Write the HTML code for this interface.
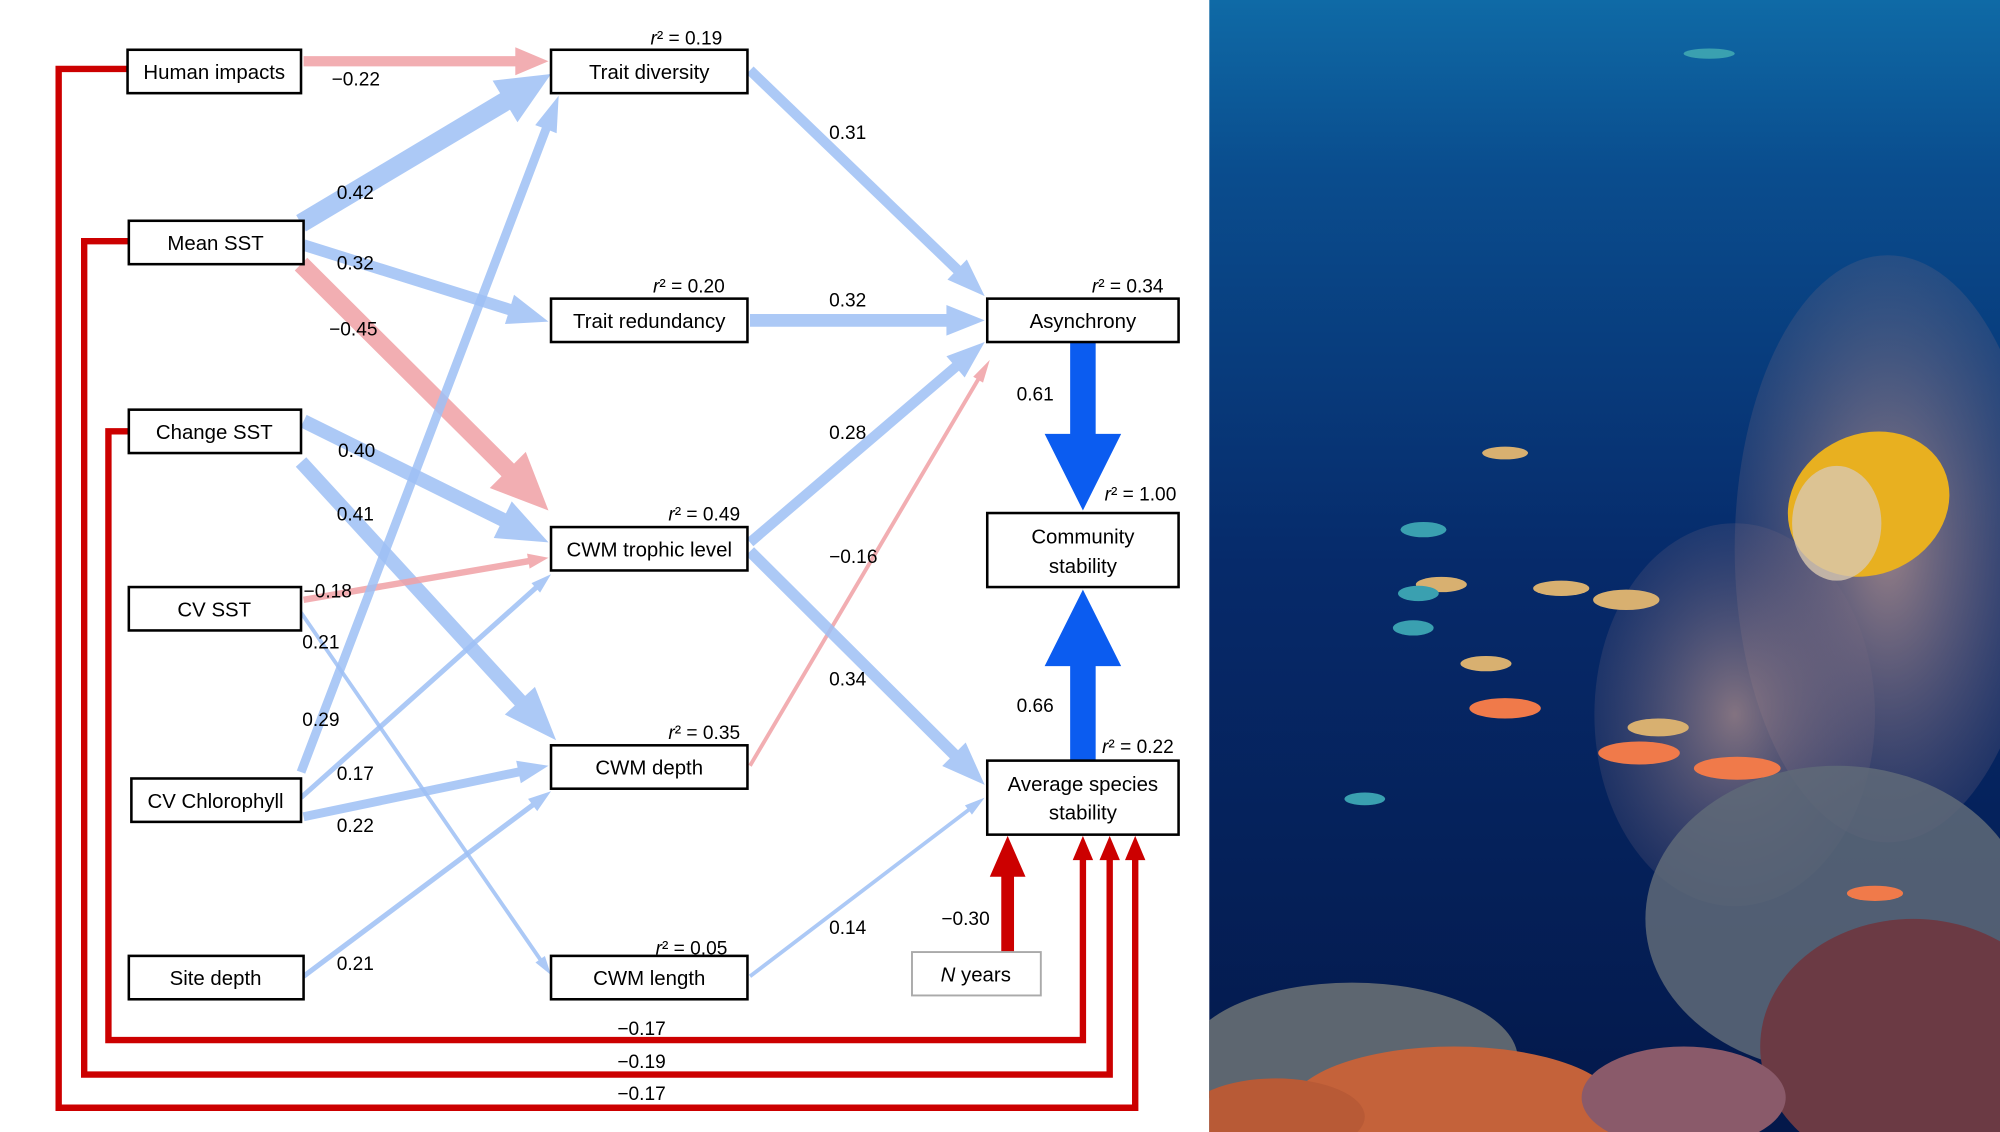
<!DOCTYPE html>
<html><head><meta charset="utf-8"><style>
html,body{margin:0;padding:0;background:#fff;}
svg{display:block;}
text{font-family:"Liberation Sans",Arial,sans-serif;fill:#000;}
</style></head><body>
<svg id="s" width="2000" height="1132" viewBox="0 0 1568 887" preserveAspectRatio="none" xmlns="http://www.w3.org/2000/svg">
<defs>
<linearGradient id="sea" x1="0" y1="0" x2="0" y2="1">
<stop offset="0" stop-color="#0f6aa6"/><stop offset="0.15" stop-color="#0a4d8e"/><stop offset="0.5" stop-color="#062a6a"/><stop offset="1" stop-color="#04184a"/>
</linearGradient>
<radialGradient id="fan" cx="0.5" cy="0.5" r="0.5"><stop offset="0" stop-color="#b9948e"/><stop offset="1" stop-color="#7a6a80" stop-opacity="0.3"/></radialGradient>
<clipPath id="pc"><rect x="948" y="0" width="620" height="887"/></clipPath>
</defs>
<rect x="0" y="0" width="1568" height="887" fill="#fff"/>
<!-- photo -->
<g clip-path="url(#pc)">
<rect x="948" y="0" width="620" height="887" fill="url(#sea)"/>
<ellipse cx="1480" cy="430" rx="120" ry="230" fill="url(#fan)" opacity="0.8"/>
<ellipse cx="1360" cy="560" rx="110" ry="150" fill="url(#fan)" opacity="0.7"/>
<ellipse cx="1440" cy="720" rx="150" ry="120" fill="#5f6a78" opacity="0.85"/>
<ellipse cx="1500" cy="820" rx="120" ry="100" fill="#6b3a44"/>
<ellipse cx="1060" cy="830" rx="130" ry="60" fill="#5d6670"/>
<ellipse cx="1140" cy="870" rx="130" ry="50" fill="#c4623a"/>
<ellipse cx="1000" cy="875" rx="70" ry="30" fill="#b85a36"/>
<ellipse cx="1320" cy="860" rx="80" ry="40" fill="#8a5a6a"/>
<ellipse cx="1465" cy="395" rx="65" ry="55" fill="#e8b020" transform="rotate(-25 1465 395)"/>
<ellipse cx="1440" cy="410" rx="35" ry="45" fill="#d8c8b0" opacity="0.8"/>
<g fill="#f07a4a">
<ellipse cx="1180" cy="555" rx="28" ry="8"/><ellipse cx="1285" cy="590" rx="32" ry="9"/><ellipse cx="1362" cy="602" rx="34" ry="9"/><ellipse cx="1470" cy="700" rx="22" ry="6"/>
</g>
<g fill="#d8b070">
<ellipse cx="1165" cy="520" rx="20" ry="6"/><ellipse cx="1224" cy="461" rx="22" ry="6"/><ellipse cx="1275" cy="470" rx="26" ry="8"/><ellipse cx="1180" cy="355" rx="18" ry="5"/><ellipse cx="1300" cy="570" rx="24" ry="7"/><ellipse cx="1130" cy="458" rx="20" ry="6"/>
</g>
<g fill="#3aa0b0">
<ellipse cx="1116" cy="415" rx="18" ry="6"/><ellipse cx="1112" cy="465" rx="16" ry="6"/><ellipse cx="1108" cy="492" rx="16" ry="6"/><ellipse cx="1070" cy="626" rx="16" ry="5"/><ellipse cx="1340" cy="42" rx="20" ry="4"/>
</g>
</g>

<g id="arrows"></g>

<!-- boxes -->
<g fill="#fff" stroke="#000" stroke-width="2">
<rect x="100" y="39" width="136" height="34"/>
<rect x="101" y="173" width="137" height="34"/>
<rect x="101" y="321" width="135" height="34"/>
<rect x="101" y="460" width="135" height="34"/>
<rect x="103" y="610" width="133" height="34"/>
<rect x="101" y="749" width="137" height="34"/>
<rect x="432" y="39" width="154" height="34"/>
<rect x="432" y="234" width="154" height="34"/>
<rect x="432" y="413" width="154" height="34"/>
<rect x="432" y="584" width="154" height="34"/>
<rect x="432" y="749" width="154" height="34"/>
<rect x="774" y="234" width="150" height="34"/>
<rect x="774" y="402" width="150" height="58"/>
<rect x="774" y="596" width="150" height="58"/>
<rect x="715" y="746" width="101" height="34" stroke="#aaa" stroke-width="1.5"/>
</g>
<g font-size="16" text-anchor="middle">
<text x="168" y="62">Human impacts</text>
<text x="169" y="196">Mean SST</text>
<text x="168" y="344">Change SST</text>
<text x="168" y="483">CV SST</text>
<text x="169" y="633">CV Chlorophyll</text>
<text x="169" y="772">Site depth</text>
<text x="509" y="62">Trait diversity</text>
<text x="509" y="257">Trait redundancy</text>
<text x="509" y="436">CWM trophic level</text>
<text x="509" y="607">CWM depth</text>
<text x="509" y="772">CWM length</text>
<text x="849" y="257">Asynchrony</text>
<text x="849" y="426">Community</text>
<text x="849" y="449">stability</text>
<text x="849" y="620">Average species</text>
<text x="849" y="642">stability</text>
<text x="765" y="769"><tspan font-style="italic">N</tspan> years</text>
</g>
<g font-size="15">
<text x="510" y="35"><tspan font-style="italic">r</tspan>² = 0.19</text>
<text x="512" y="229"><tspan font-style="italic">r</tspan>² = 0.20</text>
<text x="524" y="408"><tspan font-style="italic">r</tspan>² = 0.49</text>
<text x="524" y="579"><tspan font-style="italic">r</tspan>² = 0.35</text>
<text x="514" y="748"><tspan font-style="italic">r</tspan>² = 0.05</text>
<text x="856" y="229"><tspan font-style="italic">r</tspan>² = 0.34</text>
<text x="866" y="392"><tspan font-style="italic">r</tspan>² = 1.00</text>
<text x="864" y="590"><tspan font-style="italic">r</tspan>² = 0.22</text>
<text x="260" y="67">−0.22</text>
<text x="264" y="156">0.42</text>
<text x="264" y="211">0.32</text>
<text x="258" y="263">−0.45</text>
<text x="265" y="358">0.40</text>
<text x="264" y="408">0.41</text>
<text x="238" y="468">−0.18</text>
<text x="237" y="508">0.21</text>
<text x="237" y="569">0.29</text>
<text x="264" y="611">0.17</text>
<text x="264" y="652">0.22</text>
<text x="264" y="760">0.21</text>
<text x="650" y="109">0.31</text>
<text x="650" y="240">0.32</text>
<text x="650" y="344">0.28</text>
<text x="650" y="441">−0.16</text>
<text x="650" y="537">0.34</text>
<text x="650" y="732">0.14</text>
<text x="797" y="314">0.61</text>
<text x="797" y="558">0.66</text>
<text x="738" y="725">−0.30</text>
<text x="484" y="811">−0.17</text>
<text x="484" y="837">−0.19</text>
<text x="484" y="862">−0.17</text>
</g>
</svg>
<script>
var NS="http://www.w3.org/2000/svg",g=document.getElementById("arrows");
var B="#9dbff5",P="#f0a0a4",D="#0b5cf0",R="#cc0000";
function ar(x1,y1,x2,y2,w,hw,hl,c,op){
 var dx=x2-x1,dy=y2-y1,L=Math.hypot(dx,dy),ux=dx/L,uy=dy/L,px=-uy,py=ux;
 var bx=x2-ux*hl,by=y2-uy*hl,h=w/2,H=hw/2;
 var pts=[[x1+px*h,y1+py*h],[bx+px*h,by+py*h],[bx+px*H,by+py*H],[x2,y2],[bx-px*H,by-py*H],[bx-px*h,by-py*h],[x1-px*h,y1-py*h]];
 var p=document.createElementNS(NS,"polygon");
 p.setAttribute("points",pts.map(function(a){return a[0].toFixed(1)+","+a[1].toFixed(1)}).join(" "));
 p.setAttribute("fill",c);p.setAttribute("fill-opacity",op||0.85);g.appendChild(p);
}
function ln(pts,c,w){var p=document.createElementNS(NS,"polyline");p.setAttribute("points",pts);p.setAttribute("fill","none");p.setAttribute("stroke",c);p.setAttribute("stroke-width",w);g.appendChild(p);}
ln("100,54 46,54 46,868 890,868 890,672",R,5);
ln("101,189 66,189 66,842 870,842 870,672",R,5);
ln("101,338 85,338 85,815 849,815 849,672",R,5);
ar(890,674,890,655,0,16,19,R,1);ar(870,674,870,655,0,16,19,R,1);ar(849,674,849,655,0,16,19,R,1);
ar(790,746,790,655,10,28,32,R,1);
ar(238,48,430,48,8,22,26,P);
ar(236,175,432,58,15,38,42,B);
ar(238,192,430,252,9,24,32,B);
ar(236,207,430,400,14,40,45,P);
ar(238,330,430,425,11,32,40,B);
ar(236,362,436,580,11,32,42,B);
ar(238,470,430,437,5,12,16,P);
ar(236,480,432,764,3,9,15,B);
ar(236,605,438,75,7,18,28,B);
ar(236,625,432,450,4,10,16,B);
ar(238,640,430,600,7,18,24,B);
ar(238,765,432,620,4,12,18,B);
ar(588,55,772,232,8,22,30,B);
ar(588,251,772,251,10,24,30,B);
ar(588,425,772,268,8,22,30,B);
ar(588,600,776,282,3,9,18,P);
ar(588,432,772,615,9,26,34,B);
ar(588,765,772,625,3,9,16,B);
ar(849,268,849,400,20,60,60,D,1);
ar(849,596,849,462,20,60,60,D,1);
</script>
</body></html>
